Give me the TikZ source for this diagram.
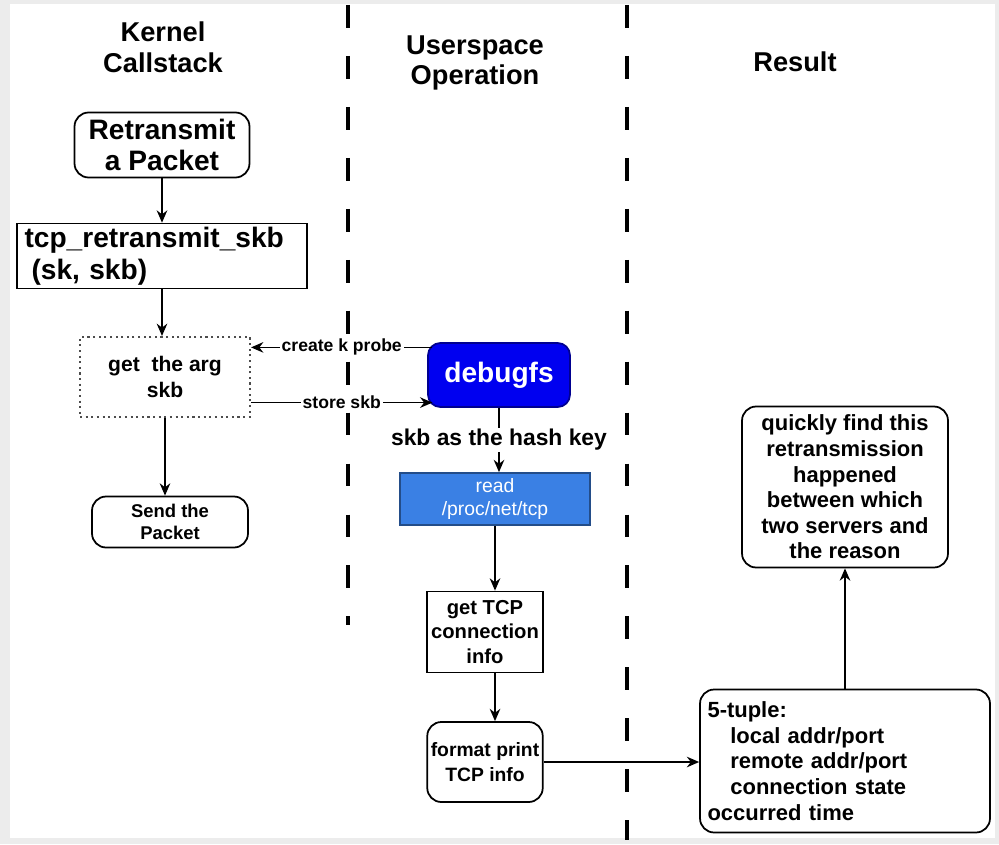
\documentclass[tikz,border=0pt]{standalone}
\usepackage{fontspec}
\setmainfont{Liberation Sans}
\usetikzlibrary{arrows.meta}
\definecolor{debugblue}{RGB}{0,0,240}
\definecolor{readblue}{RGB}{58,128,228}
\definecolor{pagegray}{RGB}{236,236,236}

\begin{document}
\begin{tikzpicture}[x=0.02cm,y=-0.02cm,
  >={Stealth[length=7pt,width=6pt]}, line width=1pt,
  box/.style={draw, align=center, font=\bfseries, inner sep=2pt},
  rbox/.style={box, rounded corners=8pt},
  head/.style={align=center, font=\fontsize{15.5}{17.5}\selectfont\bfseries},
  lbl/.style={fill=white, inner sep=1pt, font=\fontsize{10}{12}\selectfont\bfseries},
  lane/.style={line width=2pt, dash pattern=on 13pt off 16pt}
]
\useasboundingbox (0,0) rectangle (999,844);
\fill[pagegray] (0,0) rectangle (999,844);
\fill[white] (10,4) rectangle (995,838);

% lanes
\draw[lane] (348,5) -- (348,625);
\draw[lane] (627,5) -- (627,840);

\node[head] (kernel) at (163,47) {Kernel\\Callstack};
\node[head] (user) at (475,63) {Userspace\\Operation};
\node[head] (result) at (795,62) {Result};

% kernel side
\node[rbox, minimum width=3.5cm, minimum height=1.3cm, font=\fontsize{16}{18}\selectfont\bfseries] (retx) at (162,145) {Retransmit\\a Packet};
\node[box, text width=5.5cm, align=left, minimum height=1.26cm, inner xsep=0.15cm, font=\fontsize{16}{18}\selectfont\bfseries] (tcpskb) at (162,256) {tcp\_retransmit\_skb\\\hspace*{4pt}(sk, skb)};
\node[box, draw=black!70, dotted, line width=1.2pt, minimum width=3.4cm, minimum height=1.6cm, font=\fontsize{12}{15}\selectfont\bfseries] (getarg) at (165,377) {get~ the arg\\skb};
\node[rbox, minimum width=3.12cm, minimum height=1.02cm, font=\fontsize{10.5}{12.5}\selectfont\bfseries] (send) at (170,522) {Send the\\Packet};

% userspace side
\node[rbox, rounded corners=7pt, fill=debugblue, draw=debugblue!60!black, text=white, minimum width=2.84cm, minimum height=1.28cm, font=\fontsize{16}{18}\selectfont\bfseries] (debugfs) at (499,375) {debugfs};
\node[box, fill=readblue, draw=readblue!60!black, text=white, minimum width=3.8cm, minimum height=1.04cm, font=\fontsize{11}{13}\selectfont] (readtcp) at (495,499) {read\\/proc/net/tcp};
\node[box, minimum width=2.32cm, minimum height=1.62cm, font=\fontsize{11.5}{14}\selectfont\bfseries] (gettcp) at (485,632) {get TCP\\connection\\info};
\node[rbox, minimum width=2.3cm, minimum height=1.6cm, font=\fontsize{11}{14}\selectfont\bfseries] (fmt) at (485,762) {format print\\TCP info};

% result side
\node[rbox, text width=5.5cm, inner xsep=0.15cm, minimum height=2.86cm, align=left, font=\fontsize{12.5}{14.7}\selectfont\bfseries] (tuple) at (845,761) {5-tuple:\\\hspace*{13pt}local addr/port\\\hspace*{13pt}remote addr/port\\\hspace*{13pt}connection state\\occurred time};
\node[rbox, minimum width=4.12cm, minimum height=3.22cm, font=\fontsize{12.5}{14.6}\selectfont\bfseries] (quick) at (845,487) {quickly find this\\retransmission\\happened\\between which\\two servers and\\the reason};

% arrows
\draw[->] (retx.south) -- (retx.south |- tcpskb.north);
\draw[->] (tcpskb.south) -- (tcpskb.south |- getarg.north);
\draw[->] (getarg.south) -- (getarg.south |- send.north);
\draw[->] ([xshift=3pt,yshift=-3pt]debugfs.north west) -- ([yshift=-3pt]debugfs.north west -| getarg.east) node[lbl, midway] {create k probe};
\draw[->] ([yshift=3pt]debugfs.south west -| getarg.east) -- ([xshift=3pt,yshift=3pt]debugfs.south west) node[lbl, midway] {store skb};
\draw[->] (debugfs.south) -- (debugfs.south |- readtcp.north) node[midway, fill=white, inner sep=1pt, font=\fontsize{13}{15}\selectfont\bfseries] {skb as the hash key};
\draw[->] (readtcp.south) -- (readtcp.south |- gettcp.north);
\draw[->] (readtcp.south |- gettcp.south) -- (readtcp.south |- fmt.north);
\draw[->] (fmt.east) -- (fmt.east -| tuple.west);
\draw[->] (tuple.north) -- (quick.south);
\end{tikzpicture}
\end{document}
